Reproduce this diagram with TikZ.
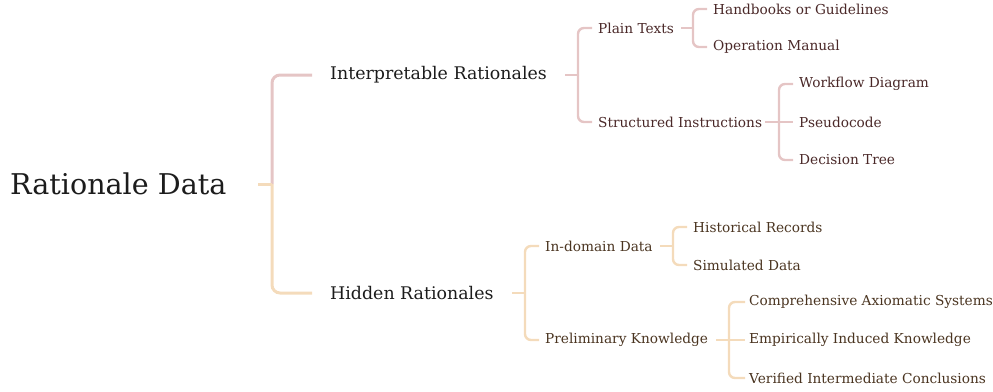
\documentclass[tikz,border=0pt]{standalone}
\usepackage{fontspec}
\setmainfont{DejaVu Serif}
\definecolor{pinkL}{HTML}{E5C5C5}
\definecolor{beigeL}{HTML}{F4DBBB}
\definecolor{pinkT}{HTML}{4A2828}
\definecolor{beigeT}{HTML}{4A3420}
\definecolor{mainT}{HTML}{1C1C1C}
\begin{document}
\begin{tikzpicture}[x=1pt,y=-1pt,
  rootbox/.style={anchor=west,inner sep=0pt,text=mainT,font=\fontsize{28.6}{32}\selectfont},
  midbox/.style={anchor=west,inner sep=0pt,text=mainT,font=\fontsize{17.4}{20}\selectfont},
  leafP/.style={anchor=west,inner sep=0pt,text=pinkT,font=\fontsize{13.7}{16}\selectfont},
  leafB/.style={anchor=west,inner sep=0pt,text=beigeT,font=\fontsize{13.7}{16}\selectfont},
  mainP/.style={draw=pinkL,line width=3pt,rounded corners=8pt},
  mainB/.style={draw=beigeL,line width=3pt,rounded corners=8pt},
  subP/.style={draw=pinkL,line width=2.4pt,rounded corners=6pt},
  subB/.style={draw=beigeL,line width=2.4pt,rounded corners=6pt}]
\useasboundingbox (0,0) rectangle (993,391);
% nodes
\node[rootbox] (root) at (10,184) {Rationale Data};
\node[midbox] (interp) at (330,75) {Interpretable Rationales};
\node[midbox] (hidden) at (330,293) {Hidden Rationales};
\node[leafP] (plain) at (598,28) {Plain Texts};
\node[leafP] (struct) at (598,122) {Structured Instructions};
\node[leafP] (hand) at (713,9) {Handbooks or Guidelines};
\node[leafP] (oper) at (713,47) {Operation Manual};
\node[leafP] (work) at (799,84) {Workflow Diagram};
\node[leafP] (pseudo) at (799,122) {Pseudocode};
\node[leafP] (dec) at (799,160) {Decision Tree};
\node[leafB] (indom) at (545,246) {In-domain Data};
\node[leafB] (prelim) at (545,340) {Preliminary Knowledge};
\node[leafB] (hist) at (693,227) {Historical Records};
\node[leafB] (sim) at (693,265) {Simulated Data};
\node[leafB] (comp) at (749,302) {Comprehensive Axiomatic Systems};
\node[leafB] (emp) at (749,340) {Empirically Induced Knowledge};
\node[leafB] (ver) at (749,378) {Verified Intermediate Conclusions};
% junctions
\coordinate (r0) at (258,184); \coordinate (j0) at (272,184);
\coordinate (i0) at (565,75);  \coordinate (j1) at (578,75);
\coordinate (h0) at (512,293); \coordinate (j2) at (525,293);
\coordinate (p0) at (681,28);  \coordinate (j3) at (693,28);
\coordinate (s0) at (765,122); \coordinate (j4) at (779,122);
\coordinate (d0) at (660,246); \coordinate (j5) at (673,246);
\coordinate (k0) at (716,340); \coordinate (j6) at (729,340);
% connectors
\draw[mainP,shorten >=18pt] (j0) |- (interp.west);
\draw[mainB,shorten >=18pt] (j0) |- (hidden.west);
\draw[mainB] (r0) -- (j0);
\draw[subP] (i0) -- (j1);
\draw[subP,shorten >=6pt] (j1) |- (plain.west);
\draw[subP,shorten >=6pt] (j1) |- (struct.west);
\draw[subP] (p0) -- (j3);
\draw[subP,shorten >=6pt] (j3) |- (hand.west);
\draw[subP,shorten >=6pt] (j3) |- (oper.west);
\draw[subP,shorten >=6pt] (s0) -- (pseudo.west);
\draw[subP,shorten >=6pt] (j4) |- (work.west);
\draw[subP,shorten >=6pt] (j4) |- (dec.west);
\draw[subB] (h0) -- (j2);
\draw[subB,shorten >=6pt] (j2) |- (indom.west);
\draw[subB,shorten >=6pt] (j2) |- (prelim.west);
\draw[subB] (d0) -- (j5);
\draw[subB,shorten >=6pt] (j5) |- (hist.west);
\draw[subB,shorten >=6pt] (j5) |- (sim.west);
\draw[subB,shorten >=4pt] (k0) -- (emp.west);
\draw[subB,shorten >=4pt] (j6) |- (comp.west);
\draw[subB,shorten >=4pt] (j6) |- (ver.west);
\end{tikzpicture}
\end{document}
